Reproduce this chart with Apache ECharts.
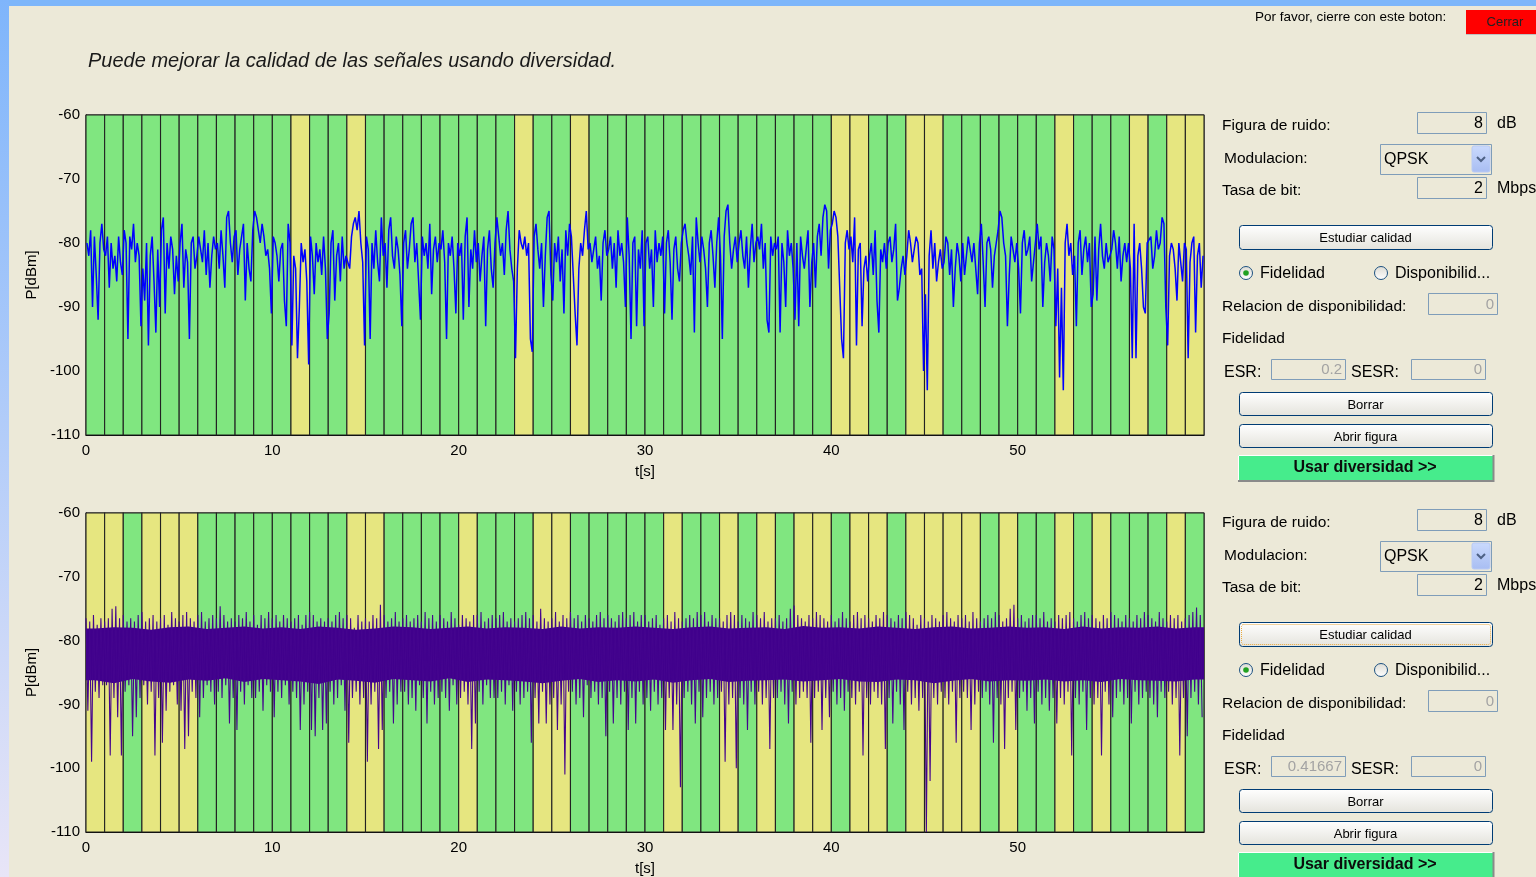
<!DOCTYPE html>
<html><head><meta charset="utf-8">
<script src="https://cdn.jsdelivr.net/npm/echarts/dist/echarts.min.js"></script>
<style>html,body{margin:0;padding:0;background:#ECE9D8;overflow:hidden}#c{width:1536px;height:877px}</style>
</head><body><div id="c"></div><script>
// ---------- data ----------
const xTicks = [0, 10, 20, 30, 40, 50];
const yTicks = [-60, -70, -80, -90, -100, -110];
// 1 = yellow (errored second), 0 = green
const bandsTop = [0,0,0,0,0,0,0,0,0,0, 0,1,0,0,1,0,0,0,0,0, 0,0,0,1,0,0,1,0,0,0, 0,0,0,0,0,0,0,0,0,0, 1,1,0,0,1,1,0,0,0,0, 0,0,1,0,0,0,1,0,1,1];
const bandsBot = [1,1,0,1,1,1,0,0,0,0, 0,0,0,0,1,1,0,0,0,0, 1,0,0,0,1,1,0,0,0,0, 0,1,0,0,1,0,1,0,1,1, 0,1,1,0,1,1,1,1,0,1, 0,0,1,0,1,0,0,0,1,0];
// top signal, 10 samples per second
const topSignal = [
-80,-82,-78,-90,-79,-85,-92,-80,-77,-81, -82,-79,-87,-80,-84,-82,-86,-79,-83,-85,
-78,-80,-95,-79,-81,-77,-83,-80,-82,-93, -84,-89,-80,-96,-82,-79,-86,-94,-81,-90,
-78,-76,-91,-80,-84,-79,-81,-88,-82,-86, -80,-77,-87,-81,-83,-95,-80,-79,-84,-82,
-79,-81,-83,-78,-85,-80,-87,-82,-79,-81, -80,-84,-78,-82,-87,-76,-75,-80,-83,-79,
-78,-85,-81,-79,-77,-89,-80,-84,-86,-78, -75,-76,-78,-80,-77,-79,-82,-81,-84,-91,
-79,-80,-82,-86,-81,-80,-89,-93,-77,-80, -96,-82,-84,-98,-90,-80,-83,-81,-86,-99,
-79,-82,-88,-80,-83,-81,-85,-79,-84,-95, -91,-80,-78,-89,-82,-80,-86,-79,-84,-82,
-82,-84,-79,-77,-76,-78,-75,-80,-83,-96, -79,-81,-95,-80,-84,-78,-83,-86,-76,-82,
-80,-87,-78,-76,-82,-84,-79,-81,-85,-93, -80,-78,-84,-81,-77,-76,-83,-80,-86,-92,
-79,-82,-80,-84,-77,-88,-81,-79,-83,-80, -81,-78,-83,-95,-80,-82,-79,-84,-91,-80,
-82,-80,-92,-79,-76,-90,-81,-84,-78,-83, -80,-86,-82,-79,-93,-81,-78,-84,-87,-80,
-76,-79,-82,-80,-85,-78,-75,-81,-84,-86, -98,-84,-78,-80,-81,-79,-82,-80,-95,-97,
-79,-77,-81,-84,-80,-90,-82,-76,-75,-85, -89,-80,-83,-79,-86,-81,-91,-78,-82,-77,
-79,-85,-91,-96,-84,-80,-82,-78,-75,-81, -80,-83,-81,-79,-84,-82,-89,-80,-78,-82,
-81,-79,-84,-80,-87,-78,-82,-80,-83,-90, -76,-82,-95,-80,-79,-93,-81,-84,-78,-93,
-80,-79,-84,-81,-90,-78,-83,-80,-82,-79, -91,-80,-78,-83,-92,-81,-79,-84,-86,-80,
-78,-77,-80,-82,-85,-79,-94,-76,-80,-83, -79,-81,-84,-90,-80,-78,-82,-87,-80,-76,
-82,-95,-79,-75,-74,-80,-84,-81,-79,-83, -80,-78,-82,-84,-79,-87,-81,-77,-83,-80,
-79,-81,-77,-84,-80,-92,-94,-79,-82,-80, -81,-79,-94,-80,-83,-90,-78,-82,-80,-84,
-92,-80,-93,-79,-82,-84,-81,-78,-90,-83, -80,-87,-79,-77,-82,-76,-74,-75,-84,-78,
-77,-75,-76,-79,-87,-95,-98,-80,-78,-81, -79,-83,-76,-96,-81,-80,-93,-84,-82,-86,
-82,-80,-85,-78,-89,-94,-81,-83,-80,-84, -80,-79,-83,-81,-77,-89,-87,-84,-82,-85,
-82,-78,-80,-83,-81,-79,-80,-85,-84,-100, -88,-103,-82,-78,-84,-80,-86,-83,-81,-84,
-83,-79,-80,-85,-81,-90,-84,-80,-82,-86, -80,-85,-82,-79,-81,-83,-80,-84,-88,-80,
-77,-83,-90,-80,-79,-81,-87,-82,-80,-78, -75,-76,-80,-82,-93,-85,-79,-81,-83,-80,
-84,-91,-80,-78,-82,-81,-79,-86,-83,-80, -77,-81,-79,-90,-83,-80,-82,-86,-79,-81,
-93,-84,-101,-87,-103,-80,-77,-82,-80,-85, -82,-93,-80,-78,-85,-81,-79,-83,-80,-90,
-88,-79,-89,-81,-77,-82,-84,-80,-83,-82, -81,-78,-80,-84,-79,-86,-82,-80,-83,-80,
-84,-98,-77,-98,-82,-80,-84,-90,-91,-80, -80,-79,-84,-82,-78,-81,-80,-76,-77,-90,
-96,-82,-80,-81,-84,-89,-80,-83,-86,-80, -81,-98,-83,-80,-79,-94,-82,-80,-87,-82
];
// bottom (diversity) signal: upper peaks and lower dips, 5 per second each
const botHi = [
-76.5,-77,-76,-77.5,-76.5, -77,-76.5,-75,-74.6,-76.5, -76,-77,-76.5,-77,-76, -75.5,-77,-76.5,-76,-77,
-76.5,-76,-77.5,-75.5,-76.5, -77,-76,-75.5,-76.5,-77, -76,-75.5,-77,-76.5,-76, -76.5,-74.6,-76,-77,-76.5,
-77,-76,-76.5,-75.5,-77, -76,-77.5,-76,-76.5,-75.5, -76.5,-76,-77,-76,-76.5, -77,-76.5,-76,-77.5,-76,
-75.5,-76,-77,-76.5,-77, -76.5,-77,-76,-75.5,-76.5, -76,-76.5,-78,-76,-77, -76.5,-77,-76,-76.5,-74.4,
-76,-77,-76.5,-75.5,-77, -76.5,-76,-77,-76.5,-76, -77,-75.5,-76.5,-76,-77, -76,-76.5,-77,-75.5,-76.5,
-77.5,-76,-76.5,-77,-76, -76,-75.5,-77,-76.5,-76, -76.5,-76,-75.5,-77,-76.5, -77,-76.5,-76,-75.5,-76.5,
-76,-77,-75,-76.5,-77, -76.5,-75.5,-77,-76,-76.5, -75.5,-76.5,-76,-77,-76, -76.5,-77,-76,-75.5,-76.5,
-76,-76.5,-77,-76,-75.5, -76.5,-76,-75.5,-77,-76, -76,-77,-76.5,-76,-77.5, -76.5,-76,-77,-75.5,-76.5,
-77,-76.5,-76,-76.5,-75.5, -76,-75.5,-77,-76,-76.5, -76.5,-77,-76,-75.5,-76, -77,-76,-76.5,-77,-75.5,
-76,-76.5,-75.5,-77,-76.5, -76.5,-76,-77,-76.5,-75, -74.5,-76,-76.5,-77,-76, -76.5,-75.5,-76,-76.5,-77,
-76,-77,-76.5,-75.5,-76.5, -77,-76,-75.5,-76.5,-76, -76.5,-77,-76,-76.5,-75.5, -76,-76.5,-77,-76,-76.5,
-75.5,-76,-76.5,-77.5,-76, -76.5,-77,-76,-76.5,-77, -76,-75.5,-76.5,-77,-76, -76.5,-76,-77,-75.5,-76.5,
-77,-76.5,-76,-76.5,-75.5, -76,-77,-76.5,-75,-74.4, -76.5,-76,-77,-76.5,-76, -76,-76.5,-75.5,-77,-76.5,
-77,-76,-76.5,-76,-75.5, -76.5,-77,-76,-75.5,-76.5, -76,-76.5,-77,-76,-76.5, -75.5,-76,-76.5,-77,-76,
-76.5,-77,-76,-76.5,-75.5, -76,-76.5,-77,-75.5,-76.5, -77,-76,-76.5,-76,-77, -76.5,-76,-75.5,-74.8,-76
];
const botLo = [
-91,-99,-88,-89,-87, -87,-98,-89,-92,-98, -88,-87,-95,-92,-89, -87,-90,-88,-98,-89,
-96,-91,-88,-87,-90, -91,-97,-95,-88,-89, -92,-89,-87,-88,-90, -88,-89,-87,-93,-89,
-94,-88,-90,-87,-89, -89,-88,-91,-87,-88, -92,-88,-89,-87,-90, -88,-89,-94,-90,-88,
-94,-95,-89,-94,-93, -88,-90,-89,-87,-91, -96,-89,-88,-90,-89, -99,-90,-88,-97,-94,
-89,-88,-93,-90,-88, -88,-90,-89,-91,-87, -89,-93,-88,-90,-89, -88,-89,-91,-87,-90,
-89,-88,-90,-97,-93, -88,-90,-87,-89,-89, -89,-88,-90,-87,-91, -88,-90,-89,-88,-96,
-89,-93,-88,-93,-90, -89,-94,-90,-101,-88, -88,-90,-89,-92,-87, -89,-88,-90,-89,-95,
-88,-93,-89,-90,-88, -94,-89,-93,-88,-90, -89,-91,-88,-90,-89, -94,-89,-94,-90,-103,
-89,-88,-90,-93,-88, -92,-89,-88,-90,-89, -88,-99,-90,-89,-100, -89,-90,-94,-88,-90,
-88,-90,-89,-97,-89, -89,-88,-90,-93,-88, -90,-89,-88,-89,-96, -89,-88,-94,-89,-92,
-88,-90,-89,-91,-88, -89,-90,-88,-98,-89, -90,-88,-89,-90,-97, -89,-93,-88,-90,-94,
-88,-90,-89,-91,-89, -110,-102,-89,-90,-88, -89,-90,-88,-96,-89, -88,-89,-94,-90,-88,
-89,-88,-90,-96,-89, -90,-97,-89,-88,-94, -89,-88,-91,-89,-93, -88,-90,-89,-91,-89,
-93,-89,-90,-88,-98, -89,-90,-88,-94,-89, -90,-89,-98,-88,-90, -92,-89,-88,-90,-89,
-93,-88,-90,-89,-88, -89,-90,-92,-88,-89, -88,-90,-89,-98,-89, -95,-89,-88,-90,-92
];
// solid core of the bottom signal, per second
const botCoreTop = [
-78.1,-77.9,-78.0,-78.3,-77.9,-77.8,-78.2,-78.0,-77.8,-78.1, -77.9,-78.2,-77.8,-78.0,-78.3,-78.1,-77.8,-77.9,-78.2,-78.0,
-77.8,-78.1,-77.9,-78.0,-78.2,-77.8,-78.1,-77.9,-78.0,-77.8, -78.0,-78.2,-77.9,-77.8,-78.1,-78.0,-77.9,-78.2,-77.7,-78.0,
-77.9,-78.1,-77.8,-78.0,-78.2,-77.9,-77.8,-78.1,-78.0,-77.8, -78.0,-77.9,-78.2,-77.8,-78.1,-77.9,-78.0,-77.8,-78.1,-77.9];
const botCoreBot = [
-86.2,-86.7,-86.0,-86.4,-86.6,-86.1,-86.3,-85.9,-86.5,-86.0, -86.2,-86.4,-86.8,-86.1,-86.3,-86.6,-86.0,-86.2,-86.4,-85.9,
-86.5,-86.1,-86.2,-86.4,-86.7,-86.3,-86.0,-86.5,-86.2,-86.4, -86.1,-86.6,-86.2,-86.0,-86.5,-86.3,-86.2,-86.1,-86.4,-86.2,
-86.0,-86.4,-86.5,-86.1,-86.2,-86.7,-86.3,-86.0,-86.4,-86.2, -86.3,-86.1,-86.4,-86.2,-86.5,-86.0,-86.2,-86.3,-86.4,-86.1];

// ---------- build ----------
const GREEN = '#80E680', YELLOW = '#E6E680', BG = '#ECE9D8';
const SANS = '"Liberation Sans", Arial, sans-serif';
const Y_MIN = yTicks[yTicks.length - 1], Y_MAX = yTicks[0];

const topLine = topSignal.map((v, i) => [i * 0.1 + 0.05, v]);
const botLine = [];
for (let i = 0; i < botHi.length; i++) {
  botLine.push([i * 0.2, botHi[i]]);
  botLine.push([i * 0.2 + 0.1, botLo[i]]);
}
const bandData = arr => arr.map((c, i) => [i, c]);

function bandRender(params, api) {
  const i = api.value(0), c = api.value(1);
  const p0 = api.coord([i, Y_MAX]), p1 = api.coord([i + 1, Y_MIN]);
  return { type: 'rect', shape: { x: p0[0], y: p0[1], width: p1[0] - p0[0], height: p1[1] - p0[1] },
    style: { fill: c ? YELLOW : GREEN, stroke: '#222222', lineWidth: 1.1 } };
}
function coreRender(params, api) {
  const n = botCoreTop.length, pts = [];
  pts.push(api.coord([0, botCoreTop[0]]));
  for (let s = 0; s < n; s++) pts.push(api.coord([s + 0.5, botCoreTop[s]]));
  pts.push(api.coord([n, botCoreTop[n - 1]]));
  pts.push(api.coord([n, botCoreBot[n - 1]]));
  for (let s = n - 1; s >= 0; s--) pts.push(api.coord([s + 0.5, botCoreBot[s]]));
  pts.push(api.coord([0, botCoreBot[0]]));
  return { type: 'polygon', shape: { points: pts }, style: { fill: '#40008C' } };
}

function xAx(gi) {
  return { gridIndex: gi, type: 'value', min: xTicks[0], max: 60, interval: 10,
    axisLine: { show: true, lineStyle: { color: '#000', width: 1 } }, axisTick: { show: false },
    splitLine: { show: false },
    axisLabel: { color: '#000', fontSize: 15, fontFamily: SANS, margin: 8,
      formatter: v => (xTicks.indexOf(v) >= 0 ? String(v) : '') },
    name: 't[s]', nameLocation: 'middle', nameGap: 29,
    nameTextStyle: { color: '#000', fontSize: 15, fontFamily: SANS } };
}
function yAx(gi) {
  return { gridIndex: gi, type: 'value', min: Y_MIN, max: Y_MAX, interval: 10,
    axisLine: { show: true, lineStyle: { color: '#000', width: 1 } }, axisTick: { show: false },
    splitLine: { show: false },
    axisLabel: { color: '#000', fontSize: 15, fontFamily: SANS, margin: 6 },
    name: 'P[dBm]', nameLocation: 'middle', nameGap: 45,
    nameTextStyle: { color: '#000', fontSize: 15, fontFamily: SANS } };
}

// ---------- right-side panel (graphic) ----------
function txt(x, y, s, o) {
  o = o || {};
  const a = o.align || 'left';
  return { type: 'text', x: x, y: y + 1.5, silent: true, z: 10,
    style: { text: s, fill: o.fill || '#000', font: o.font || ('15.5px ' + SANS),
      align: a, textAlign: a, verticalAlign: 'middle', textVerticalAlign: 'middle' } };
}
function rect(x, y, w, h, style, r) {
  return { type: 'rect', silent: true, z: 9, shape: { x: x, y: y, width: w, height: h, r: r || 0 }, style: style };
}
function grad(c1, c2) {
  return new echarts.graphic.LinearGradient(0, 0, 0, 1, [{ offset: 0, color: c1 }, { offset: 1, color: c2 }]);
}
function inputBox(x, y, w, h) { return rect(x + 0.5, y + 0.5, w, h, { fill: BG, stroke: '#7F9DB9', lineWidth: 1 }); }
function button(x, y, w, h, label, focus) {
  const els = [rect(x + 0.5, y + 0.5, w, h, { fill: grad('#FFFFFF', '#E4E3DC'), stroke: '#003C74', lineWidth: 1 }, 3)];
  if (focus) els.push(rect(x + 2.5, y + 2.5, w - 4, h - 4, { fill: 'none', stroke: '#E9A93C', lineWidth: 1, lineDash: [1, 1] }, 2));
  els.push(txt(x + w / 2, y + h / 2, label, { align: 'center', font: '13px ' + SANS }));
  return els;
}
function radio(cx, cy, on) {
  const els = [{ type: 'circle', silent: true, z: 9, shape: { cx: cx, cy: cy, r: 6.5 },
    style: { fill: grad('#DCDBD3', '#FFFFFF'), stroke: '#1C5180', lineWidth: 1 } }];
  if (on) els.push({ type: 'circle', silent: true, z: 10, shape: { cx: cx, cy: cy, r: 2.8 }, style: { fill: '#21A121' } });
  return els;
}
function panel(dy, esr, focus) {
  let e = [];
  const G = '#A3A3A3';
  e.push(txt(1222, 124 + dy, 'Figura de ruido:'));
  e.push(inputBox(1417, 112 + dy, 69, 21));
  e.push(txt(1483, 122 + dy, '8', { align: 'right', font: '16px ' + SANS }));
  e.push(txt(1497, 122 + dy, 'dB', { font: '16px ' + SANS }));
  e.push(txt(1224, 157 + dy, 'Modulacion:'));
  e.push(rect(1380.5, 144.5 + dy, 111, 30, { fill: BG, stroke: '#7F9DB9', lineWidth: 1 }));
  e.push(txt(1384, 158 + dy, 'QPSK', { font: '16px ' + SANS }));
  e.push(rect(1472, 146 + dy, 18, 26, { fill: grad('#CADAFD', '#A8BDF2'), stroke: '#B8CAF5', lineWidth: 1 }, 2));
  e.push({ type: 'polyline', silent: true, z: 11, shape: { points: [[1477, 157 + dy], [1481, 161 + dy], [1485, 157 + dy]] },
    style: { stroke: '#4D6185', lineWidth: 2, fill: 'none' } });
  e.push(txt(1222, 189 + dy, 'Tasa de bit:'));
  e.push(inputBox(1417, 177 + dy, 69, 21));
  e.push(txt(1483, 187 + dy, '2', { align: 'right', font: '16px ' + SANS }));
  e.push(txt(1497, 187 + dy, 'Mbps', { font: '16px ' + SANS }));
  e = e.concat(button(1239, 225 + dy, 253, 24, 'Estudiar calidad', focus));
  e = e.concat(radio(1246, 273 + dy, true));
  e.push(txt(1260, 272 + dy, 'Fidelidad', { font: '16px ' + SANS }));
  e = e.concat(radio(1381, 273 + dy, false));
  e.push(txt(1395, 272 + dy, 'Disponibilid...', { font: '16px ' + SANS }));
  e.push(txt(1222, 305 + dy, 'Relacion de disponibilidad:'));
  e.push(inputBox(1428, 293 + dy, 69, 21));
  e.push(txt(1494, 303 + dy, '0', { align: 'right', fill: G, font: '15px ' + SANS }));
  e.push(txt(1222, 337 + dy, 'Fidelidad'));
  e.push(txt(1224, 371 + dy, 'ESR:', { font: '16px ' + SANS }));
  e.push(inputBox(1271, 359 + dy, 74, 20));
  e.push(txt(1342, 368 + dy, esr, { align: 'right', fill: G, font: '15px ' + SANS }));
  e.push(txt(1351, 371 + dy, 'SESR:', { font: '16px ' + SANS }));
  e.push(inputBox(1411, 359 + dy, 74, 20));
  e.push(txt(1482, 368 + dy, '0', { align: 'right', fill: G, font: '15px ' + SANS }));
  e = e.concat(button(1239, 392 + dy, 253, 23, 'Borrar'));
  e = e.concat(button(1239, 424 + dy, 253, 23, 'Abrir figura'));
  e.push(rect(1238, 455 + dy, 256, 26, { fill: '#46EC8C' }));
  e.push({ type: 'polyline', silent: true, z: 10, shape: { points: [[1238.5, 481 + dy], [1238.5, 455.5 + dy], [1494, 455.5 + dy]] }, style: { stroke: '#FFFFFF', lineWidth: 1, fill: 'none' } });
  e.push({ type: 'polyline', silent: true, z: 10, shape: { points: [[1238, 481 + dy], [1493.5, 481 + dy], [1493.5, 455 + dy]] }, style: { stroke: '#8A8A8A', lineWidth: 2, fill: 'none' } });
  e.push(txt(1365, 466 + dy, 'Usar diversidad >>', { align: 'center', font: 'bold 16px ' + SANS, fill: '#0C0C0C' }));
  return e;
}

let graphics = [
  rect(0, 0, 1536, 6, { fill: '#7DB6FA' }),
  rect(0, 0, 9, 877, { fill: grad('#7FB5FB', '#E8E5F7') }),
  txt(88, 60, 'Puede mejorar la calidad de las señales usando diversidad.', { font: 'italic 20px ' + SANS, fill: '#1A1A1A' }),
  txt(1255, 16, 'Por favor, cierre con este boton:', { font: '13.5px ' + SANS }),
  rect(1466, 10, 72, 25, { fill: '#FF0000' }),
  { type: 'polyline', silent: true, z: 10, shape: { points: [[1466, 34.5], [1536, 34.5]] }, style: { stroke: '#C0C0C0', lineWidth: 1 } },
  txt(1505, 21, 'Cerrar', { align: 'center', font: '13px ' + SANS, fill: '#222' })
];
graphics = graphics.concat(panel(0, '0.2', false)).concat(panel(397, '0.41667', true));

const chart = echarts.init(document.getElementById('c'), null, { renderer: 'canvas' });
chart.setOption({
  animation: false,
  backgroundColor: BG,
  grid: [
    { left: 86, top: 115, width: 1118, height: 320, show: true, borderColor: '#000', borderWidth: 1, backgroundColor: 'transparent' },
    { left: 86, top: 513, width: 1118, height: 319, show: true, borderColor: '#000', borderWidth: 1, backgroundColor: 'transparent' }
  ],
  xAxis: [xAx(0), xAx(1)],
  yAxis: [yAx(0), yAx(1)],
  series: [
    { type: 'custom', xAxisIndex: 0, yAxisIndex: 0, renderItem: bandRender, data: bandData(bandsTop), z: 1, silent: true },
    { type: 'line', xAxisIndex: 0, yAxisIndex: 0, data: topLine, showSymbol: false, symbol: 'none', z: 3, silent: true,
      lineStyle: { color: '#0000FF', width: 1.5 }, clip: true },
    { type: 'custom', xAxisIndex: 1, yAxisIndex: 1, renderItem: bandRender, data: bandData(bandsBot), z: 1, silent: true },
    { type: 'custom', xAxisIndex: 1, yAxisIndex: 1, renderItem: coreRender, data: [[0, -80]], z: 2, silent: true, clip: true },
    { type: 'line', xAxisIndex: 1, yAxisIndex: 1, data: botLine, showSymbol: false, symbol: 'none', z: 3, silent: true,
      lineStyle: { color: '#44048E', width: 1.1 }, clip: true }
  ],
  graphic: graphics
});
</script></body></html>
